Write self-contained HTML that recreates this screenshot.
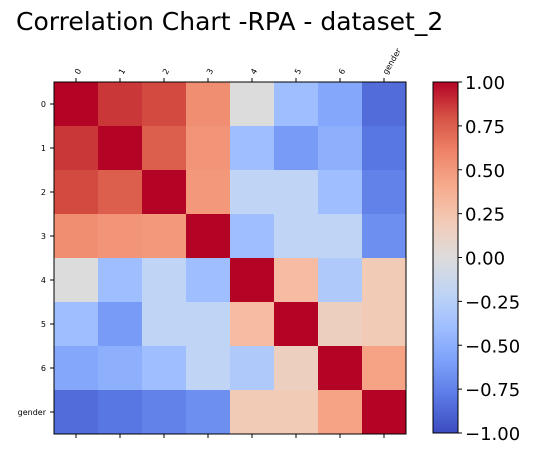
<!DOCTYPE html>
<html><head><meta charset="utf-8"><style>
body{margin:0;background:#fff;width:534px;height:455px;overflow:hidden;font-family:"DejaVu Sans","Liberation Sans",sans-serif}
</style></head><body>
<svg id="c" width="534" height="455" xmlns="http://www.w3.org/2000/svg">
<text x="16" y="30" font-size="25">Correlation Chart -RPA - dataset_2</text>
</svg>
<script>
const labels=["0","1","2","3","4","5","6","gender"];
const row0=[1,0.87,0.82,0.55,0.0,-0.4,-0.55,-0.85];
const row1=[0.87,1,0.75,0.52,-0.4,-0.62,-0.5,-0.8];
const row2=[0.82,0.75,1,0.5,-0.2,-0.2,-0.4,-0.75];
const row3=[0.55,0.52,0.5,1,-0.4,-0.2,-0.2,-0.68];
const row4=[0.0,-0.4,-0.2,-0.4,1,0.3,-0.3,0.2];
const row5=[-0.4,-0.62,-0.2,-0.2,0.3,1,0.15,0.2];
const row6=[-0.55,-0.5,-0.4,-0.2,-0.3,0.15,1,0.45];
const row7=[-0.85,-0.8,-0.75,-0.68,0.2,0.2,0.45,1];
const matrix=[row0,row1,row2,row3,row4,row5,row6,row7];
const cbTicks=[1,0.75,0.5,0.25,0,-0.25,-0.5,-0.75,-1];
const cbLabels=["1.00","0.75","0.50","0.25","0.00","\u22120.25","\u22120.50","\u22120.75","\u22121.00"];
const anchors=["#3b4cc0","#5977e3","#7b9ff9","#9ebeff","#c0d4f5","#dddcdc","#f2cbb7","#f7ac8e","#ee8468","#d65244","#b40426"];
function hex(h){return [1,3,5].map(i=>parseInt(h.substr(i,2),16));}
function cmap(v){let t=(Math.max(-1,Math.min(1,v))+1)/2*10;let i=Math.min(9,Math.floor(t));let f=t-i;let a=hex(anchors[i]),b=hex(anchors[i+1]);return "rgb("+a.map((x,k)=>Math.round(x+(b[k]-x)*f)).join(",")+")";}
const svg=document.getElementById('c');const NS="http://www.w3.org/2000/svg";
function mk(t,at,p){const e=document.createElementNS(NS,t);for(const k in at)e.setAttribute(k,at[k]);(p||svg).appendChild(e);return e;}
const L=54,T=82,S=352,n=labels.length,cw=S/n;
const xs=i=>L+i*cw, ys=i=>T+i*cw;
matrix.forEach((row,r)=>row.forEach((v,c)=>{
 const e=mk('rect',{x:xs(c),y:ys(r),width:cw+0.5,height:cw+0.5,fill:cmap(v)});
 
 
}));
const fr=mk('rect',{x:L,y:T,width:S,height:S,fill:'none',stroke:'#000','stroke-width':1});

labels.forEach((lb,i)=>{
 const cx=xs(i)+cw/2, cy=ys(i)+cw/2;
 mk('line',{x1:cx,y1:T,x2:cx,y2:T-4,stroke:'#000'});
 mk('line',{x1:cx,y1:T+S,x2:cx,y2:T+S+4,stroke:'#000'});
 mk('line',{x1:L,y1:cy,x2:L-4,y2:cy,stroke:'#000'});
 const tx=mk('text',{x:cx+3,y:T-7,'font-size':8,transform:`rotate(-60 ${cx+3} ${T-7})`});
 tx.textContent=lb;
 
 const ty=mk('text',{x:L-8,y:cy+3,'font-size':8,'text-anchor':'end'});
 ty.textContent=lb;
 
});
const CX=433,CW=25,CT=82,CH=351;
const g=mk('defs',{});const lg=mk('linearGradient',{id:'cg',x1:0,y1:1,x2:0,y2:0},g);
anchors.forEach((a,i)=>mk('stop',{offset:i/10,'stop-color':a},lg));
const cb=mk('rect',{x:CX,y:CT,width:CW,height:CH,fill:'url(#cg)',stroke:'#000','stroke-width':1});

const cy=v=>CT+(1-v)/2*CH;
cbTicks.forEach((v,i)=>{
 mk('line',{x1:CX+CW,y1:cy(v),x2:CX+CW+4,y2:cy(v),stroke:'#000'});
 const t=mk('text',{x:CX+CW+7,y:cy(v)+7,'font-size':18});
 t.textContent=cbLabels[i];
 
});
</script>
</body></html>
